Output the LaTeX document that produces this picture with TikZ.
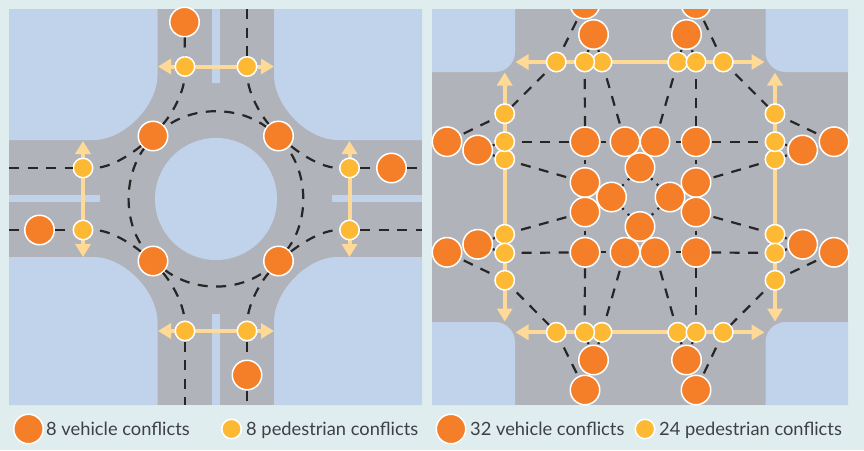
\documentclass[tikz,border=0pt]{standalone}
\usepackage{fontspec}
\setmainfont{Lato}
\usetikzlibrary{arrows.meta}

\definecolor{pagebg}{HTML}{DFEDEE}
\definecolor{landblue}{HTML}{C1D3EB}
\definecolor{roadgrey}{HTML}{B1B3BA}
\definecolor{vehorange}{HTML}{F57F29}
\definecolor{pedyellow}{HTML}{FDB933}
\definecolor{walkcol}{HTML}{FFD996}
\definecolor{labelcol}{HTML}{3F3F47}

\tikzset{
  vehicle/.style={circle,draw=white,line width=1.5pt,fill=vehorange,minimum size=29.5pt,inner sep=0pt},
  pedestrian/.style={circle,draw=white,line width=1.5pt,fill=pedyellow,minimum size=19.5pt,inner sep=0pt},
  conflict/.style={draw=black!85,line width=2.2pt,dash pattern=on 10pt off 8.5pt},
  conflictgap/.style={conflict,dash phase=12pt},
  dots/.style={conflict,dash pattern=on 2pt off 6pt on 2pt off 20pt},
  stub/.style={conflict,dash pattern=on 5pt off 20pt},
  midstub/.style={conflict,dash pattern=on 0pt off 3pt on 4pt off 20pt},
  walkway/.style={draw=walkcol,line width=4pt,{Triangle[length=13pt,width=15pt]}-{Triangle[length=13pt,width=15pt]}},
  legend/.style={anchor=base west,inner sep=0pt,text=labelcol,font=\fontsize{18.3}{20}\selectfont}
}

\begin{document}
\begin{tikzpicture}[x=1pt,y=-1pt]
  \fill[pagebg] (0,0) rectangle (864,450);

  % left panel: roundabout
  \fill[roadgrey] (9,9) rectangle (422,405);
  \fill[landblue] (9,9) -- (157.5,9) -- (157.5,75) .. controls (157.5,105) and (125,140) .. (93,140) -- (9,140) -- cycle;
  \fill[landblue] (422,9) -- (274,9) -- (274,75) .. controls (274,105) and (306,140) .. (338,140) -- (422,140) -- cycle;
  \fill[landblue] (9,405) -- (157.5,405) -- (157.5,322) .. controls (157.5,292) and (125,257) .. (93,257) -- (9,257) -- cycle;
  \fill[landblue] (422,405) -- (274,405) -- (274,322) .. controls (274,292) and (306,257) .. (338,257) -- (422,257) -- cycle;
  \fill[landblue] (216,199) circle (61);
  \fill[landblue] (212,9) rectangle (220,83);
  \fill[landblue] (212,314) rectangle (220,405);
  \fill[landblue] (9,195) rectangle (100,202);
  \fill[landblue] (332,195) rectangle (422,202);

  % right panel: crossroads
  \fill[roadgrey] (432,9) rectangle (848,405);
  \fill[landblue] (432,9) -- (515,9) -- (515,52) .. controls (515,63) and (506,72) .. (495,72) -- (432,72) -- cycle;
  \fill[landblue] (848,9) -- (765.5,9) -- (765.5,52) .. controls (765.5,63) and (774.5,72) .. (785.5,72) -- (848,72) -- cycle;
  \fill[landblue] (432,405) -- (515,405) -- (515,342) .. controls (515,331) and (506,322) .. (495,322) -- (432,322) -- cycle;
  \fill[landblue] (848,405) -- (765.5,405) -- (765.5,342) .. controls (765.5,331) and (774.5,322) .. (785.5,322) -- (848,322) -- cycle;

  % walkways
  \foreach \name/\x/\y in {wa/158/66.5,wb/274/66.5,wc/158/331,wd/274/331,we/83/141,wf/83/257,wg/349.5/141,wh/349.5/257,
      wi/515.5/62,wj/764.5/62,wk/515.5/332.3,wl/764.5/332.3,wm/504.7/72.5,wn/504.7/321.5,wo/775/72.5,wp/775/321.5}
    \coordinate (\name) at (\x,\y);
  \foreach \a/\b in {wa/wb,wc/wd,we/wf,wg/wh,wi/wj,wk/wl,wm/wn,wo/wp}
    \draw[walkway] (\a) -- (\b);

  % left panel conflicts
  \foreach \name/\x/\y in {lva/184.5/22,lvb/153/136,lvc/278.5/136,lvd/391.5/168,lve/39.5/230,lvf/153/261,lvg/278.5/261,lvh/247/375}
    \node[vehicle] (\name) at (\x,\y) {};
  \foreach \name/\x/\y in {lpa/185/66.5,lpb/247/66.5,lpc/83/168,lpd/349.5/168,lpe/83/230,lpf/349.5/230,lpg/185/331,lph/247/331}
    \node[pedestrian] (\name) at (\x,\y) {};
  \foreach \name/\x/\y in {lca/247/9,lcb/9/168,lcc/422/168,lcd/9/230,lce/422/230,lcf/185/405,lcg/247/405}
    \coordinate (\name) at (\x,\y);

  \foreach \a/\b in {lca/lpb,lva/lpa,lcb/lpc,lpd/lvd,lvd/lcc,lcd/lve,lve/lpe,lpf/lce,lpg/lcf,lph/lvh,lvh/lcg}
    \draw[conflict] (\a) -- (\b);
  \draw[conflictgap] (lvb) .. controls (194,106) and (238,106) .. (lvc);
  \draw[conflictgap] (lvc) .. controls (308.5,177) and (308.5,221) .. (lvg);
  \draw[conflictgap] (lvg) .. controls (238,292) and (194,292) .. (lvf);
  \draw[conflictgap] (lvf) .. controls (123.5,221) and (123.5,177) .. (lvb);
  \draw[conflictgap] (lpa) .. controls (184,90) and (175,110) .. (lvb);
  \draw[conflictgap] (lpb) .. controls (248,90) and (257,110) .. (lvc);
  \draw[conflictgap] (lpg) .. controls (184,307) and (175,287) .. (lvf);
  \draw[conflictgap] (lph) .. controls (248,307) and (257,287) .. (lvg);
  \draw[conflictgap] (lpc) .. controls (110,168) and (130,155) .. (lvb);
  \draw[conflictgap] (lpd) .. controls (322,168) and (302,155) .. (lvc);
  \draw[conflictgap] (lpe) .. controls (110,230) and (130,243) .. (lvf);
  \draw[conflictgap] (lpf) .. controls (322,230) and (302,243) .. (lvg);

  % right panel conflicts
  \begin{scope}
    \clip (432,9) rectangle (848,405);
    \foreach \name/\x/\y in {rvTa/585/4,rvTb/696/4}
      \node[vehicle] (\name) at (\x,\y) {};
  \end{scope}
  \foreach \name/\x/\y in {rvTc/593.5/34.5,rvTd/686.5/34.5,rvLa/447/141.7,rvLb/477.7/150,rvRa/834/141.7,rvRb/802.7/150,
      rvA/585/141.7,rvB/625/141.7,rvC/655/141.7,rvD/696/141.7,rvE/640/167.5,
      rvF/585/182.5,rvG/696/182.5,rvJ/585/212,rvK/696/212,rvH/611.5/197,rvI/670/197,
      rvL/640/226.5,rvM/585/252.3,rvN/625/252.3,rvO/655/252.3,rvP/696/252.3,
      rvLc/447/252.3,rvLd/477.7/244.3,rvRc/834/252.3,rvRd/802.7/244.3,
      rvBc/585/390,rvBd/696/390,rvBa/593.5/360,rvBb/686.5/360}
    \node[vehicle] (\name) at (\x,\y) {};
  \foreach \name/\x/\y in {rpTa/556.3/62,rpTc/602/62,rpTb/584.7/62,rpTd/677.7/62,rpTe/696/62,rpTf/723.3/62,
      rpBa/556.3/332.3,rpBc/602/332.3,rpBb/584.7/332.3,rpBd/677.7/332.3,rpBe/696/332.3,rpBf/723.3/332.3,
      rpLa/504.7/113.7,rpLc/504.7/159.3,rpLb/504.7/141.7,rpLd/504.7/234.3,rpLe/504.7/253,rpLf/504.7/280.3,
      rpRa/775/113.7,rpRc/775/159.3,rpRb/775/141.7,rpRd/775/234.3,rpRe/775/253,rpRf/775/280.3}
    \node[pedestrian] (\name) at (\x,\y) {};

  \foreach \a/\b in {rpTa/rvTa,rpTf/rvTb,rpTb/rvA,rpTc/rvB,rpTd/rvC,rpTe/rvD,rpTa/rpLa,rpTf/rpRa,rpLa/rvLa,rpRa/rvRa,
      rpLb/rvA,rpRb/rvD,rpLc/rvF,rpRc/rvG,rpLd/rvJ,rpRd/rvK,rpLe/rvM,rpRe/rvP,
      rpBb/rvM,rpBc/rvN,rpBd/rvO,rpBe/rvP,rpLf/rpBa,rpRf/rpBf,rpLf/rvLc,rpRf/rvRc,rpBa/rvBc,rpBf/rvBd}
    \draw[conflictgap] (\a) -- (\b);
  \foreach \a/\b in {rvE/rvH,rvE/rvI,rvH/rvL,rvI/rvL,rpTb/rvTc,rpTc/rvTc,rpTd/rvTd,rpTe/rvTd,
      rpBb/rvBa,rpBc/rvBa,rpBd/rvBb,rpBe/rvBb,rpLb/rvLb,rpLc/rvLb,rpRb/rvRb,rpRc/rvRb,
      rpLe/rvLd,rpLd/rvLd,rpRe/rvRd,rpRd/rvRd}
    \draw[dots] (\a) -- (\b);
  \foreach \a/\b in {rvA/rvB,rvD/rvC,rvM/rvN,rvP/rvO}
    \draw[stub] (\a) -- (\b);
  \foreach \a/\b in {rvA/rvF,rvD/rvG,rvJ/rvM,rvK/rvP}
    \draw[midstub] (\a) -- (\b);

  % legends
  \node[vehicle] (keyva) at (28.5,429) {};
  \node[legend] (keyta) at (46,435.5) {8 vehicle conflicts};
  \node[pedestrian] (keypa) at (231.5,429) {};
  \node[legend] (keytb) at (246,435.5) {8 pedestrian conflicts};
  \node[vehicle] (keyvb) at (451,429) {};
  \node[legend] (keytc) at (470,435.5) {32 vehicle conflicts};
  \node[pedestrian] (keypb) at (645,429) {};
  \node[legend] (keytd) at (659,435.5) {24 pedestrian conflicts};
\end{tikzpicture}
\end{document}
